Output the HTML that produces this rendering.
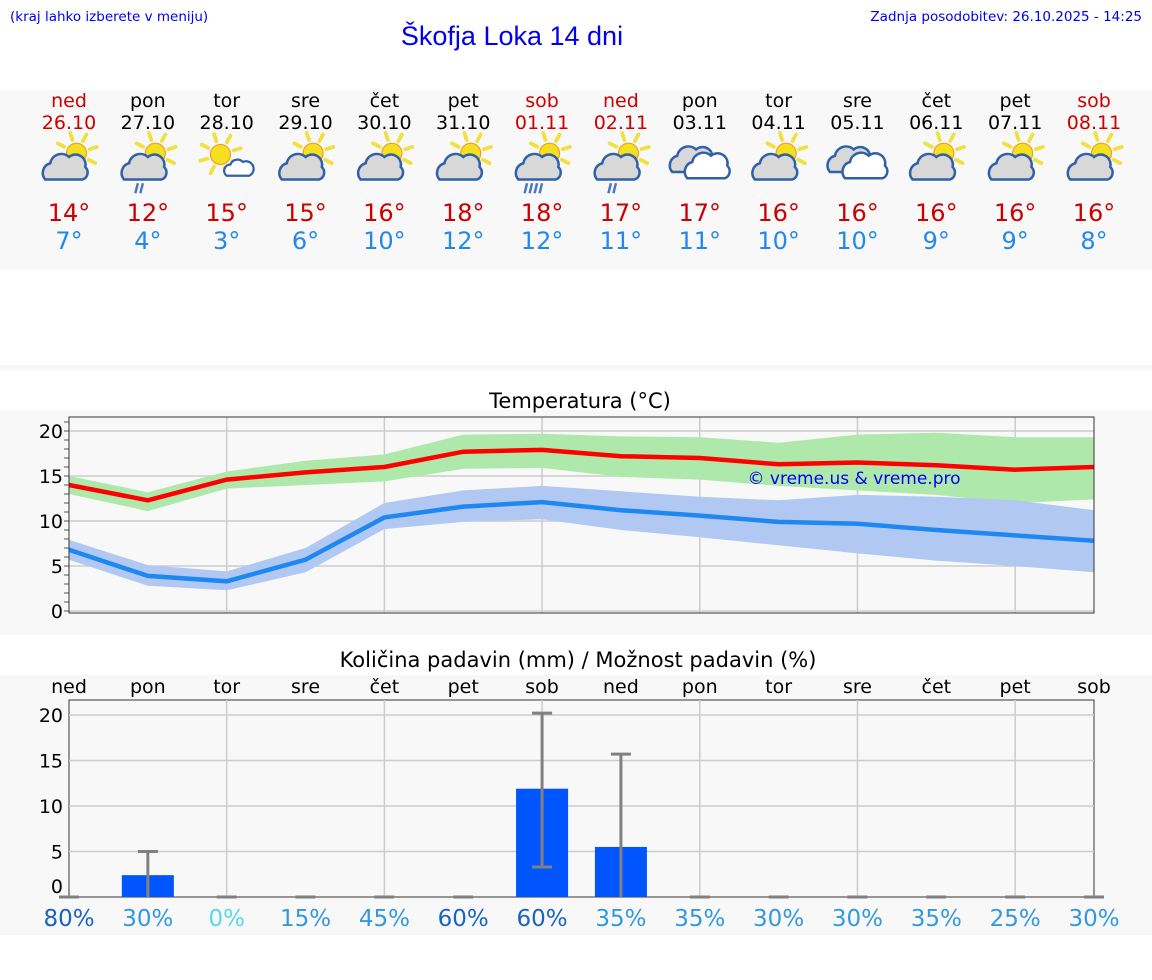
<!DOCTYPE html>
<html><head><meta charset="utf-8"><style>
body{margin:0;background:#fff;width:1152px;height:975px;overflow:hidden;font-family:"Liberation Sans","DejaVu Sans",sans-serif}
svg text{font-family:"DejaVu Sans","Liberation Sans",sans-serif}
</style></head><body>
<svg id="s" width="1152" height="975" xmlns="http://www.w3.org/2000/svg">
<rect x="0" y="90" width="1152" height="180" fill="#f8f8f8"/>
<rect x="0" y="365" width="1152" height="5" fill="#f6f6f6"/>
<rect x="0" y="410" width="1152" height="225" fill="#f8f8f8"/>
<rect x="0" y="675" width="1152" height="260" fill="#f8f8f8"/>
<text x="10" y="21" font-size="13.5" fill="#0000ee">(kraj lahko izberete v meniju)</text>
<text x="1142" y="21" font-size="13.5" fill="#0000ee" text-anchor="end">Zadnja posodobitev: 26.10.2025 - 14:25</text>
<text x="512" y="45" font-size="27" fill="#0000ee" text-anchor="middle" style="font-family:'Liberation Sans',sans-serif">Škofja Loka 14 dni</text>
<text x="580" y="408" font-size="21" text-anchor="middle" fill="#000">Temperatura (°C)</text>
<text x="578" y="667" font-size="21" text-anchor="middle" fill="#000">Količina padavin (mm) / Možnost padavin (%)</text>
<g id="g"></g>
</svg>
<script>
const days=["ned","pon","tor","sre","čet","pet","sob","ned","pon","tor","sre","čet","pet","sob"];
const dates=["26.10","27.10","28.10","29.10","30.10","31.10","01.11","02.11","03.11","04.11","05.11","06.11","07.11","08.11"];
const icons=["sc","scr","ss","sc","sc","sc","scr2","scr","cc","sc","cc","sc","sc","sc"];
const hiLabels=[14,12,15,15,16,18,18,17,17,16,16,16,16,16];
const loLabels=[7,4,3,6,10,12,12,11,11,10,10,9,9,8];
const tMax=[14,12.3,14.6,15.4,16,17.7,17.9,17.2,17,16.3,16.5,16.2,15.7,16];
const tMaxHi=[15,13.2,15.5,16.7,17.4,19.6,19.7,19.4,19.3,18.7,19.6,19.8,19.3,19.3];
const tMaxLo=[13,11.1,13.6,14,14.4,15.8,15.9,14.9,14.6,13.9,13.4,12.9,12,12.4];
const tMin=[6.8,3.9,3.3,5.7,10.4,11.6,12.1,11.2,10.6,9.9,9.7,9,8.4,7.8];
const tMinHi=[7.9,5.1,4.4,7,12,13.4,13.9,13.3,12.7,12.3,12.9,12.7,12.3,11.2];
const tMinLo=[5.7,2.8,2.3,4.3,9.1,9.9,10.2,9,8.2,7.3,6.4,5.6,5,4.3];
const tTicks=[0,5,10,15,20];
const precip=[0,2.4,0,0,0,0,11.9,5.5,0,0,0,0,0,0];
const precipHi=[0,5,0,0,0,0,20.2,15.7,0,0,0,0,0,0];
const precipLo=[0,0,0,0,0,0,3.3,0,0,0,0,0,0,0];
const chance=[80,30,0,15,45,60,60,35,35,30,30,35,25,30];
const pTicks=[0,5,10,15,20];

const NS="http://www.w3.org/2000/svg",G=document.getElementById('g');
function el(t,a,p){const e=document.createElementNS(NS,t);for(const k in a)e.setAttribute(k,a[k]);(p||G).appendChild(e);return e;}
const X0=69,X1=1094,DX=(X1-X0)/13;
const xd=i=>X0+i*DX;
const yT=v=>611-v*9;
const yP=v=>897-v*9.1;
const red="#cc0000";

for(let i=0;i<14;i++){
 const x=xd(i),we=days[i]=="ned"||days[i]=="sob";
 let t=el('text',{x:x,y:107,'font-size':19,'text-anchor':'middle',fill:we?red:'#000'});t.textContent=days[i];
 
 
 t=el('text',{x:x,y:129,'font-size':19,'text-anchor':'middle',fill:we?red:'#000'});t.textContent=dates[i];
 
 
 const g=el('g',{transform:`translate(${x},162) scale(1.25)`});
 
 
 drawIcon(g,icons[i]);
 t=el('text',{x:x,y:221,'font-size':24,'text-anchor':'middle',fill:red});t.textContent=hiLabels[i]+"°";
 
 
 t=el('text',{x:x,y:249,'font-size':24,'text-anchor':'middle',fill:'#2288ee'});t.textContent=loLabels[i]+"°";
 
 
}
function sun(g,cx,cy,r){
 for(let k=0;k<8;k++){const a=k*Math.PI/4-0.3;el('line',{x1:cx+Math.cos(a)*(r+3),y1:cy+Math.sin(a)*(r+3),x2:cx+Math.cos(a)*(r+9),y2:cy+Math.sin(a)*(r+9),stroke:'#f0e040','stroke-width':3,'stroke-linecap':'round'},g);}
 el('circle',{cx:cx,cy:cy,r:r,fill:'#f5e020',stroke:'#f0a030','stroke-width':1},g);
}
function cloud(g,x,y,s,fill){
 el('path',{d:`M${x-18*s},${y+8*s} a8 8 0 0 1 4,-13 a9 9 0 0 1 15,-5 a8 8 0 0 1 13,8 a6 6 0 0 1 -2,10 z`,fill:fill,stroke:'#3060a8','stroke-width':2},g);
}
function drawIcon(g,k){
 if(k=="cc"){cloud(g,-4,0,1,'#d8d8d8');cloud(g,8,5,1,'#fff');return;}
 if(k=="ss"){sun(g,-5,-6,8);el('path',{d:`M0,11 a5 5 0 0 1 3,-9 a6 6 0 0 1 10,-2 a5 5 0 0 1 5,11 z`,fill:'#fff',stroke:'#3060a8','stroke-width':1.8},g);return;}
 sun(g,6,-7,8);cloud(g,-1,6,1,'#d8d8d8');
 if(k=="scr"){el('path',{d:'M-8,17 l-2,8 M-4,17 l-2,8',stroke:'#4a78c0','stroke-width':2},g);}
 if(k=="scr2"){el('path',{d:'M-12,17 l-2,8 M-8,17 l-2,8 M-4,17 l-2,8 M0,17 l-2,8',stroke:'#4a78c0','stroke-width':2},g);}
}

el('rect',{x:X0,y:417,width:X1-X0,height:196,fill:'#f8f8f8',stroke:'#333','stroke-width':1});
for(const v of tTicks){el('line',{x1:X0,x2:X1,y1:yT(v),y2:yT(v),stroke:'#ccc','stroke-width':1.5});
 const t=el('text',{x:63,y:yT(v)+7,'font-size':19,'text-anchor':'end',fill:'#000'});t.textContent=v;
 
 }
for(let v=0;v<=21;v++){el('line',{x1:X0-5,x2:X0,y1:yT(v),y2:yT(v),stroke:'#555','stroke-width':1});}
for(let i=2;i<13;i+=2)el('line',{x1:xd(i),x2:xd(i),y1:417,y2:613,stroke:'#ccc','stroke-width':1.5});
function band(hi,lo,col,name){let d="M";hi.forEach((v,i)=>d+=`${xd(i)},${yT(v)} L`);for(let i=lo.length-1;i>=0;i--)d+=`${xd(i)},${yT(lo[i])} ${i?'L':''}`;const p=el('path',{d:d+'Z',fill:col});}
function line(arr,col,name){const p=el('polyline',{points:arr.map((v,i)=>xd(i)+','+yT(v)).join(' '),fill:'none',stroke:col,'stroke-width':4.5});}
band(tMaxHi,tMaxLo,'#aee8aa','max-temp-band');
band(tMinHi,tMinLo,'#b0c8f2','min-temp-band');
line(tMax,'#ff0000','max-temp-line');
line(tMin,'#1e88f0','min-temp-line');
el('rect',{x:X0,y:417,width:X1-X0,height:196,fill:'none',stroke:'#333','stroke-width':1});
let wm=el('text',{x:854,y:484,'font-size':17,'text-anchor':'middle',fill:'#0000ee'});wm.textContent="© vreme.us & vreme.pro";



el('rect',{x:X0,y:700,width:X1-X0,height:197,fill:'#f8f8f8',stroke:'#333','stroke-width':1});
for(const v of pTicks){if(v>0)el('line',{x1:X0,x2:X1,y1:yP(v),y2:yP(v),stroke:'#ccc','stroke-width':1.5});
 const t=el('text',{x:63,y:v==0?yP(v)-4:yP(v)+7,'font-size':19,'text-anchor':'end',fill:'#000'});t.textContent=v;
 
 }
for(let i=2;i<13;i+=2)el('line',{x1:xd(i),x2:xd(i),y1:700,y2:897,stroke:'#ccc','stroke-width':1.5});
const pcol=c=>c==0?'#5ad8ea':c>=60?'#1a64c0':'#3399dd';
for(let i=0;i<14;i++){
 const x=xd(i);
 let t=el('text',{x:x,y:693,'font-size':19,'text-anchor':'middle',fill:'#000'});t.textContent=days[i];
 
 
 if(precip[i]>0){const b=el('rect',{x:x-26,y:yP(precip[i]),width:52,height:897-yP(precip[i]),fill:'#0055ff'});
  
  }
 el('line',{x1:x,x2:x,y1:yP(precipHi[i]),y2:yP(precipLo[i]),stroke:'#808080','stroke-width':3});
 el('line',{x1:x-10,x2:x+10,y1:yP(precipHi[i]),y2:yP(precipHi[i]),stroke:'#808080','stroke-width':3});
 if(precipLo[i]>0)el('line',{x1:x-10,x2:x+10,y1:yP(precipLo[i]),y2:yP(precipLo[i]),stroke:'#808080','stroke-width':3});
 t=el('text',{x:x,y:926,'font-size':23,'text-anchor':'middle',fill:pcol(chance[i])});t.textContent=chance[i]+"%";
 
 
}
</script>
</body></html>
